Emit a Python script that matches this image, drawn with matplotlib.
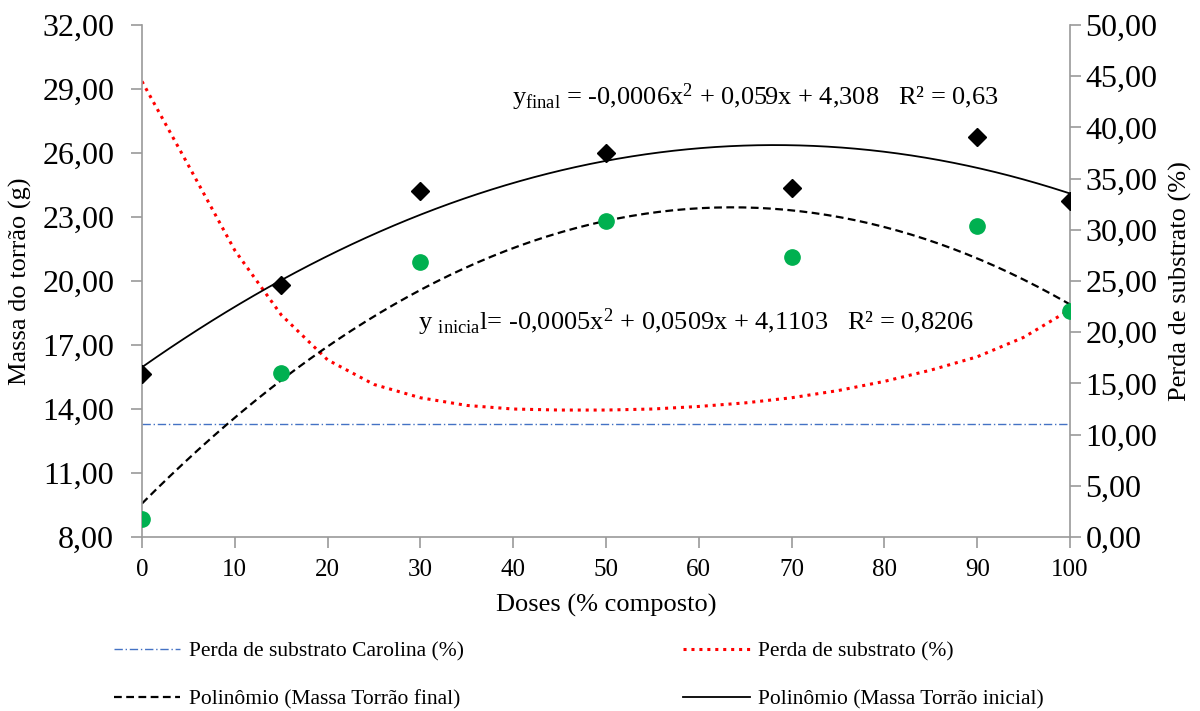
import numpy as np
import matplotlib.pyplot as plt
from matplotlib.lines import Line2D

plt.rcParams['font.family'] = ['Liberation Serif', 'DejaVu Serif']
plt.rcParams['mathtext.fontset'] = 'custom'
plt.rcParams['mathtext.rm'] = 'Liberation Serif'
plt.rcParams['mathtext.it'] = 'Liberation Serif'

# doses (% composto)
doses = [0, 15, 30, 50, 70, 90, 100]
massa_inicial = [15.66, 19.81, 24.20, 26.02, 24.34, 26.73, 23.75]  # massa torrão inicial (g)
massa_final = [8.85, 15.70, 20.90, 22.81, 21.14, 22.58, 18.61]    # massa torrão final (g)

# perda de substrato (%) - right axis
perda_x = [0, 5, 10, 15, 20, 25, 30, 35, 40, 45, 50, 55, 60, 65, 70, 75, 80, 85, 90, 95, 100]
perda_y = [44.5, 36.3, 28.0, 21.7, 17.3, 14.9, 13.6, 12.85, 12.5, 12.4, 12.4, 12.5,
           12.75, 13.1, 13.6, 14.3, 15.2, 16.3, 17.6, 19.5, 22.2]
perda_carolina = 11.0

grey = '#9a9a9a'
green = '#00b050'

fig = plt.figure(figsize=(12, 7.11), dpi=100)
ax = fig.add_axes([0.1183, 0.2447, 0.7734, 0.7201])
ax2 = ax.twinx()

# polynomial trend lines (2nd order) from the measured points
xx = np.linspace(0, 100, 200)
p_ini = np.polyfit(doses, massa_inicial, 2)
p_fin = np.polyfit(doses, massa_final, 2)

ax2.axhline(perda_carolina, color='#4472c4', lw=1.0, ls=(0, (6, 2, 1, 2)))
ax2.plot(perda_x, perda_y, color='#ff0000', lw=2.2, ls=(0, (1, 1.6)))
ax.plot(xx, np.polyval(p_fin, xx), color='black', lw=1.6, ls=(0, (3.5, 2)))
ax.plot(xx, np.polyval(p_ini, xx), color='black', lw=1.3)
ax.plot(doses, massa_inicial, 'D', color='black', ms=9.5, zorder=5)
ax.plot(doses, massa_final, 'o', color=green, ms=11, zorder=5)

ax.set_zorder(ax2.get_zorder() + 1)
ax.patch.set_visible(False)

ax.set_xlim(0, 100)
ax.set_ylim(8, 32)
ax2.set_ylim(0, 50)
ax.set_xticks(range(0, 101, 10))
ax.set_yticks(np.arange(8, 32.1, 3))
ax2.set_yticks(np.arange(0, 50.1, 5))
ax.yaxis.set_major_formatter(lambda v, p: f'{v:.2f}'.replace('.', ','))
ax2.yaxis.set_major_formatter(lambda v, p: f'{v:.2f}'.replace('.', ','))

for a in (ax, ax2):
    a.spines['top'].set_visible(False)
    for s in ('left', 'right', 'bottom'):
        a.spines[s].set_color(grey)
        a.spines[s].set_linewidth(1.2)
    a.tick_params(axis='both', color=grey, width=1.2, length=8)
ax.spines['right'].set_visible(False)
ax2.spines['left'].set_visible(False)
ax2.spines['bottom'].set_visible(False)
ax.tick_params(axis='y', labelsize=23, pad=12)
ax2.tick_params(axis='y', labelsize=23, pad=3)
ax.tick_params(axis='x', labelsize=18, pad=8)

ax.set_xlabel('Doses (% composto)', fontsize=19, labelpad=9)
ax.set_ylabel('Massa do torrão (g)', fontsize=19, labelpad=7)
ax2.set_ylabel('Perda de substrato (%)', fontsize=19, labelpad=8)

ax.text(39.9, 28.6, r'y$_{\mathrm{final}}$ = -0,0006x$^{2}$ + 0,059x + 4,308   R² = 0,63',
        fontsize=19, va='center')
ax.text(29.7, 18.05, r'y $_{\mathrm{inicia}}$l= -0,0005x$^{2}$ + 0,0509x + 4,1103   R² = 0,8206',
        fontsize=19, va='center')

handles = [
    Line2D([], [], color='#4472c4', lw=1.0, ls=(0, (6, 2, 1, 2))),
    Line2D([], [], color='black', lw=1.6, ls=(0, (3.5, 2))),
    Line2D([], [], color='#ff0000', lw=2.2, ls=(0, (1, 1.6))),
    Line2D([], [], color='black', lw=1.3),
]
labels = ['Perda de substrato Carolina (%)', 'Polinômio (Massa Torrão final)',
          'Perda de substrato (%)', 'Polinômio (Massa Torrão inicial)']
fig.legend(handles, labels, ncol=2, loc='upper left', bbox_to_anchor=(0.0785, 0.125),
           frameon=False, fontsize=15.5, handlelength=3.1, handletextpad=0.4,
           columnspacing=10.17, labelspacing=1.3)

fig.savefig('out.png', dpi=100)
